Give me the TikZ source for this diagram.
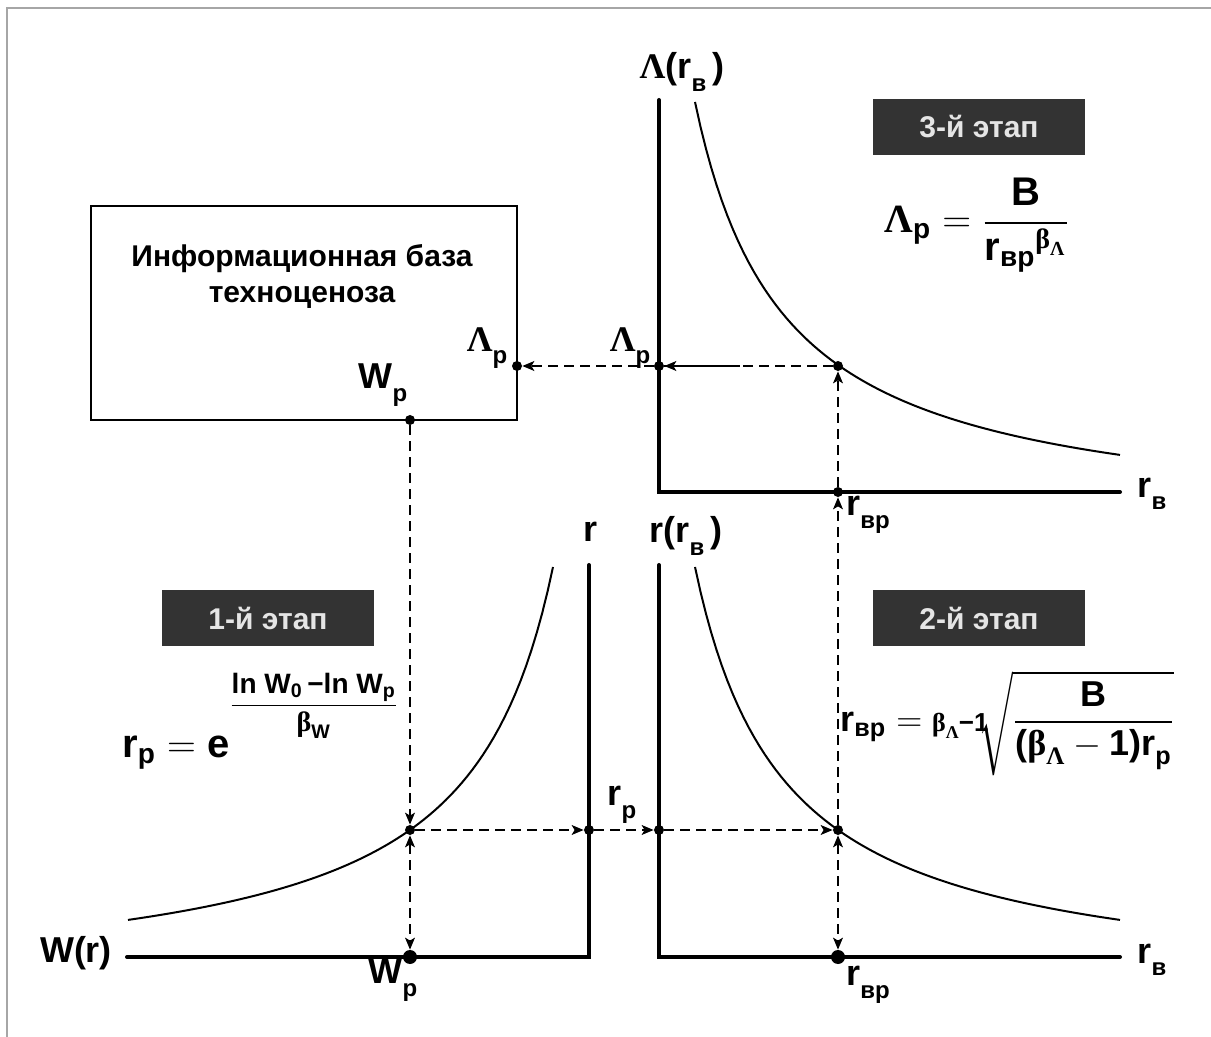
\RequirePackage{fix-cm}
\documentclass[tikz,border=0pt]{standalone}
\usepackage{amsmath}
\usepackage{fontspec}
\setmainfont{Liberation Sans}
\newfontfamily\grk{Liberation Serif}
\usetikzlibrary{arrows.meta}

\newcommand{\Lam}{{\grk\bfseries Λ}}
\newcommand{\bet}{{\grk\bfseries β}}
\newcommand{\tb}[1]{\text{\bfseries #1}}
\newcommand{\lo}[1]{\raisebox{-0.35em}{\fontsize{12}{12}\selectfont #1}}

\begin{document}
\begin{tikzpicture}[
x=0.5pt, y=-0.5pt,
axis/.style={line width=2pt, line cap=round},
curve/.style={line width=1pt},
guide/.style={dash pattern=on 5pt off 3pt, line width=0.6pt, -{Stealth[length=6pt,width=5pt,inset=1.5pt]}},
twoway/.style={guide, {Stealth[length=6pt,width=5pt,inset=1.5pt]}-{Stealth[length=6pt,width=5pt,inset=1.5pt]}},
stage/.style={fill=black!80, text=white!90!black, minimum width=106pt, minimum height=28pt, font=\fontsize{15}{18}\selectfont\bfseries},
infobox/.style={draw, line width=1pt, minimum width=213pt, minimum height=107pt},
lbl/.style={font=\fontsize{18}{21}\selectfont\bfseries, inner sep=0pt},
fml/.style={font=\fontsize{20}{24}\selectfont\bfseries, inner sep=0pt},
dot/.style={circle, fill, inner sep=0pt, minimum size=5pt},
bigdot/.style={circle, fill, inner sep=0pt, minimum size=7pt}
]
\useasboundingbox (0,0) rectangle (1211,1037);
\draw[gray!70, line width=1pt] (7,1037) -- (7,8) -- (1211,8);

% information base
\node[infobox] (base) at (304,313) {};
\node[font=\fontsize{15}{18}\selectfont\bfseries, align=center] (basetext) at (302,276) {Информационная база\\техноценоза};

% stage labels
\node[stage] (stage3) at (979,127) {3-й этап};
\node[stage] (stage1) at (268,618) {1-й этап};
\node[stage] (stage2) at (979,618) {2-й этап};

% axes
\coordinate (top3) at (659,100);
\coordinate (end3) at (1120,492);
\coordinate (top2) at (659,565);
\coordinate (end2) at (1120,957);
\coordinate (top1) at (589,565);
\coordinate (end1) at (127,957);
\draw[axis] (top3) |- (end3);
\draw[axis] (top2) |- (end2);
\draw[axis] (top1) |- (end1);

% curves
\draw[curve] plot[domain=695:1120, samples=80] (\x, {529 - 380.93/((\x-605.8)/100)});
\draw[curve] plot[domain=695:1120, samples=80] (\x, {994 - 380.93/((\x-605.8)/100)});
\draw[curve] plot[domain=128:553, samples=80] (\x, {994 - 380.93/((642.2-\x)/100)});

% points
\node[dot] (Wout) at (410,420) {};
\node[dot] (Lin) at (517,366) {};
\node[dot] (Lax) at (659,366) {};
\node[dot] (A3) at (838,366) {};
\node[dot] (R3) at (838,492) {};
\node[dot] (P1) at (410,830) {};
\node[dot] (Q1) at (589,830) {};
\node[dot] (Q2) at (659,830) {};
\node[dot] (P2) at (838,830) {};
\node[bigdot] (W1) at (410,957) {};
\node[bigdot] (R2) at (838,957) {};
\coordinate (solidend) at (740,366);

% connectors
\draw[guide] (Wout) -- (P1);
\draw[twoway] (P1) -- (W1);
\draw[guide] (P1) -- (Q1);
\draw[guide] (Q1) -- (Q2);
\draw[guide] (Q2) -- (P2);
\draw[twoway] (P2) -- (R2);
\draw[guide] (P2) -- (R3);
\draw[guide] (R3) -- (A3);
\draw[guide] (A3) -- (Lax);
\draw[line width=0.6pt] (Lax) -- (solidend);
\draw[guide] (Lax) -- (Lin);

% axis and point labels
\node[lbl] (lamaxis) at (682,72) {\Lam(r\lo{в}\,)};
\node[lbl] (rb3) at (1152,494) {r\lo{в}};
\node[lbl] (raxis) at (591,532) {r};
\node[lbl] (rraxis) at (686,536) {r(r\lo{в}\,)};
\node[lbl] (rb2) at (1152,960) {r\lo{в}};
\node[lbl] (waxis) at (76,953) {W(r)};
\node[lbl] (lamp1) at (487,348) {\Lam\lo{p}};
\node[lbl] (lamp2) at (630,348) {\Lam\lo{p}};
\node[lbl] (wp1) at (383,385) {W\lo{p}};
\node[lbl] (wp2) at (393,980) {W\lo{p}};
\node[lbl] (rvp1) at (868,515) {r\lo{вр}};
\node[lbl] (rvp2) at (868,985) {r\lo{вр}};
\node[lbl] (rp) at (622,805) {r\lo{p}};

% formulas
\node[fml, anchor=base west] (f3) at (884,233) {$\tb{\Lam}_{\tb{p}} = \dfrac{\tb{B}}{{\tb{r}_{\tb{вр}}}^{\tb{\bet}_{\tb{\Lam}}}}$};
\node[fml, anchor=base west] (f1) at (122,757) {$\tb{r}_{\tb{p}} = \tb{e}^{\raisebox{15pt}{\fontsize{14}{16}\selectfont$\dfrac{\tb{ln W}_{\tb{0}}\,\tb{−ln W}_{\tb{p}}}{\tb{\bet}_{\tb{W}}}$}}$};
\node[fml, font=\fontsize{18}{22}\selectfont\bfseries, anchor=base west] (f2) at (840,731) {$\tb{r}_{\tb{вр}} = \mbox{\fontsize{13}{13}\selectfont\bfseries\bet\raisebox{-0.3em}{\fontsize{9}{9}\selectfont\Lam}−1}\mkern-5mu\sqrt{\dfrac{\tb{B}}{\tb{(\bet}_{\tb{\Lam}} - \tb{1)r}_{\tb{p}}}}$};
\end{tikzpicture}
\end{document}
